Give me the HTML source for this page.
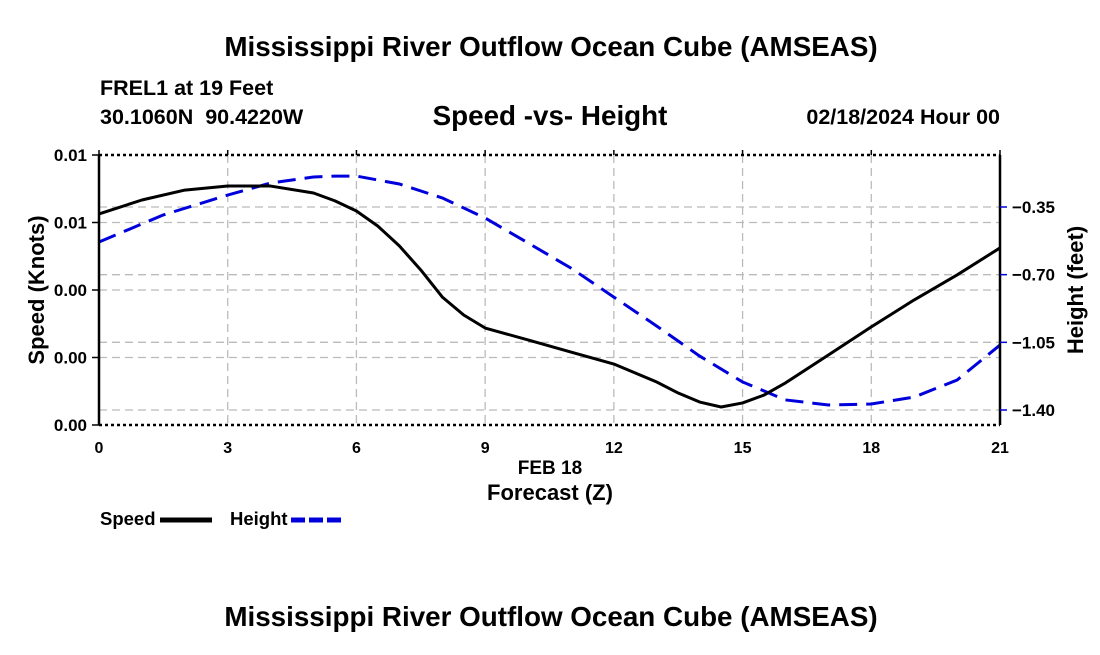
<!DOCTYPE html>
<html><head><meta charset="utf-8"><style>
body{margin:0;background:#fff;width:1100px;height:650px;overflow:hidden}
svg{font-family:"Liberation Sans",sans-serif;font-weight:bold}
</style></head><body>
<svg id="chart" width="1100" height="650" xmlns="http://www.w3.org/2000/svg">
<text x="551" y="56" font-size="27.8" text-anchor="middle">Mississippi River Outflow Ocean Cube (AMSEAS)</text>
<text x="100" y="95" font-size="21.5">FREL1 at 19 Feet</text>
<text x="100" y="124" font-size="21.5">30.1060N &#160;90.4220W</text>
<text x="550" y="125" font-size="27.8" text-anchor="middle">Speed -vs- Height</text>
<text x="1000" y="124" font-size="21.5" text-anchor="end">02/18/2024 Hour 00</text>
<g id="grid"></g>
<g id="series"></g>
<g id="axes"></g>
<text x="550" y="474" font-size="19" text-anchor="middle">FEB 18</text>
<text x="550" y="500" font-size="22" text-anchor="middle">Forecast (Z)</text>
<text transform="translate(44,290) rotate(-90)" font-size="22" text-anchor="middle">Speed (Knots)</text>
<text transform="translate(1083,290) rotate(-90)" font-size="22" text-anchor="middle">Height (feet)</text>
<g>
<text x="100" y="525" font-size="18.5">Speed</text>
<line x1="160" y1="520" x2="212" y2="520" stroke="#000" stroke-width="5"/>
<text x="230" y="525" font-size="18.5">Height</text>
<line x1="291" y1="520" x2="343" y2="520" stroke="#0000dd" stroke-width="5" stroke-dasharray="14,4"/>
</g>
<text x="551" y="626" font-size="27.8" text-anchor="middle">Mississippi River Outflow Ocean Cube (AMSEAS)</text>
</svg>
<script>
const hours=[0,1,2,3,4,5,5.5,6,6.5,7,7.5,8,8.5,9,10,11,12,12.5,13,13.5,14,14.5,15,15.5,16,17,18,19,20,21];
const speedValues=[0.00938,0.0100,0.01044,0.01062,0.01062,0.01031,0.00996,0.00951,0.00884,0.00796,0.00689,0.00569,0.00489,0.00431,0.00378,0.00324,0.00271,0.00231,0.00191,0.00142,0.00102,0.00080,0.00098,0.00133,0.00187,0.00311,0.00436,0.00556,0.00667,0.00787];
const heightHours=[0,1.5,3,4,5,5.5,6,7,8,9,10,11,12,13,14,15,16,17,18,19,20,21];
const heightValues=[-0.531,-0.391,-0.288,-0.226,-0.195,-0.19,-0.19,-0.231,-0.303,-0.407,-0.536,-0.666,-0.816,-0.966,-1.121,-1.255,-1.348,-1.374,-1.369,-1.333,-1.245,-1.064];
const xTicks=[0,3,6,9,12,15,18,21];
const speedTicks=[0,0.003,0.006,0.009,0.012];
const speedTickLabels=["0.00","0.00","0.00","0.01","0.01"];
const heightTicks=[-0.35,-0.70,-1.05,-1.40];
const heightTickLabels=["\u22120.35","\u22120.70","\u22121.05","\u22121.40"];
const L=99,R=1000,T=155,B=425;
const X=h=>L+(h-0)/21*(R-L);
const YS=v=>B-v/0.012*(B-T);
const YH=v=>207+(-0.35-v)/1.05*203;
const NS="http://www.w3.org/2000/svg";
function mk(p,tag,attrs){const e=document.createElementNS(NS,tag);for(const k in attrs)e.setAttribute(k,attrs[k]);p.appendChild(e);return e;}
const grid=document.getElementById('grid'),ser=document.getElementById('series'),ax=document.getElementById('axes');
const gs={stroke:"#bbb","stroke-width":1.3,"stroke-dasharray":"8,5"};
xTicks.slice(1,-1).forEach(h=>{const l=mk(grid,'line',Object.assign({x1:X(h),x2:X(h),y1:T,y2:B},gs));

});
speedTicks.slice(1,-1).forEach(v=>{const l=mk(grid,'line',Object.assign({x1:L,x2:R,y1:YS(v),y2:YS(v)},gs));

});
heightTicks.forEach(v=>{const l=mk(grid,'line',Object.assign({x1:L,x2:R,y1:YH(v),y2:YH(v)},gs));

});
const hp=mk(ser,'polyline',{points:heightHours.map((h,i)=>X(h)+','+YH(heightValues[i])).join(' '),fill:'none',stroke:'#0000dd','stroke-width':3,'stroke-dasharray':'18,9'});


const sp=mk(ser,'polyline',{points:hours.map((h,i)=>X(h)+','+YS(speedValues[i])).join(' '),fill:'none',stroke:'#000','stroke-width':3,'stroke-linejoin':'round'});


[[L,T,R,T],[L,B,R,B]].forEach(c=>{const l=mk(ax,'line',{x1:c[0],y1:c[1],x2:c[2],y2:c[3],stroke:'#000','stroke-width':2.5,'stroke-dasharray':'3,3'});

});
[[L,T,L,B],[R,T,R,B]].forEach(c=>{const l=mk(ax,'line',{x1:c[0],y1:c[1],x2:c[2],y2:c[3],stroke:'#000','stroke-width':2.5});

});
xTicks.forEach(h=>{const t=mk(ax,'text',{x:X(h),y:B+28,'font-size':16,'text-anchor':'middle'});t.textContent=h;


mk(ax,'line',{x1:X(h),x2:X(h),y1:T-5,y2:T,stroke:'#000','stroke-width':1.5});});
speedTicks.forEach((v,i)=>{const t=mk(ax,'text',{x:L-12,y:YS(v)+6,'font-size':17,'text-anchor':'end'});t.textContent=speedTickLabels[i];


mk(ax,'line',{x1:L-7,x2:L,y1:YS(v),y2:YS(v),stroke:'#000','stroke-width':1.5});});
heightTicks.forEach((v,i)=>{const t=mk(ax,'text',{x:R+12,y:YH(v)+6,'font-size':17});t.textContent=heightTickLabels[i];


mk(ax,'line',{x1:R,x2:R+7,y1:YH(v),y2:YH(v),stroke:'#0000dd','stroke-width':1.5});});
</script>
</body></html>
